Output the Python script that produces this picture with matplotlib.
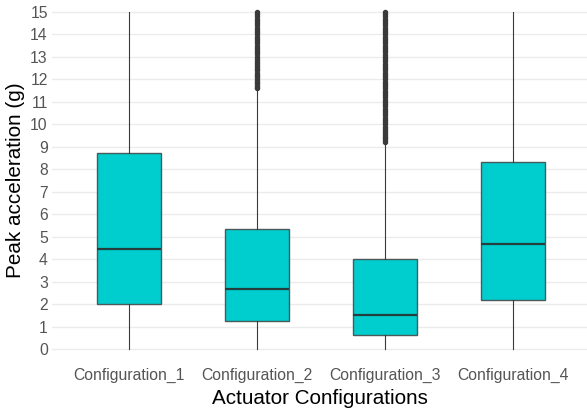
import matplotlib
matplotlib.use("Agg")
import matplotlib.pyplot as plt

plt.rcParams['font.family'] = ['Liberation Sans', 'DejaVu Sans']

# Box summary statistics per actuator configuration
categories = ["Configuration_1", "Configuration_2", "Configuration_3", "Configuration_4"]
q1 = [2.0, 1.25, 0.62, 2.2]
medians = [4.47, 2.67, 1.53, 4.67]
q3 = [8.72, 5.35, 4.03, 8.32]
whisker_low = [0.0, 0.0, 0.0, 0.0]
whisker_high = [15.0, 11.58, 9.2, 15.0]

outliers_2 = [11.62, 11.68, 11.75, 11.83, 11.9, 11.98, 12.05, 12.14, 12.22, 12.3,
              12.4, 12.48, 12.57, 12.66, 12.75, 12.84, 12.93, 13.02, 13.12, 13.2,
              13.3, 13.4, 13.5, 13.6, 13.7, 13.8, 13.9, 14.0, 14.1, 14.2,
              14.3, 14.4, 14.5, 14.6, 14.7, 14.8, 14.9, 14.98]
outliers_3 = [9.24, 9.3, 9.38, 9.46, 9.55, 9.63, 9.72, 9.8, 9.9, 10.0,
              10.1, 10.2, 10.3, 10.4, 10.5, 10.6, 10.7, 10.8, 10.9, 11.0,
              11.1, 11.2, 11.3, 11.4, 11.5, 11.6, 11.7, 11.8, 11.9, 12.0,
              12.1, 12.2, 12.3, 12.4, 12.5, 12.6, 12.7, 12.8, 12.9, 13.0,
              13.1, 13.2, 13.3, 13.4, 13.5, 13.6, 13.7, 13.8, 13.9, 14.0,
              14.1, 14.2, 14.3, 14.4, 14.5, 14.6, 14.7, 14.8, 14.9, 14.98]
outliers = [[], outliers_2, outliers_3, []]

y_ticks = list(range(0, 16))

W, H = 587, 411
fig = plt.figure(figsize=(W / 100, H / 100), dpi=100)
ax = fig.add_axes([52 / W, 1 - 355 / H, (587 - 52) / W, (355 - 8.6) / H])

stats = []
for i in range(len(categories)):
    stats.append(dict(med=medians[i], q1=q1[i], q3=q3[i],
                      whislo=whisker_low[i], whishi=whisker_high[i],
                      fliers=outliers[i], label=categories[i]))

edge = "#3A3A3A"
ax.bxp(stats, positions=range(1, 5), widths=0.5, patch_artist=True,
       showcaps=False,
       boxprops=dict(facecolor="#00CDCD", edgecolor="#4A5A5A", linewidth=1.0),
       medianprops=dict(color="#243E3E", linewidth=1.6),
       whiskerprops=dict(color=edge, linewidth=0.8),
       flierprops=dict(marker="o", markersize=2.9, markerfacecolor=edge,
                       markeredgecolor=edge, linestyle="none"))

ax.set_xlim(0.398, 4.578)
ax.set_ylim(-0.25, 15.15)
ax.set_yticks(y_ticks)
ax.set_yticklabels([str(v) for v in y_ticks])
ax.grid(axis="y", color="#EBEBEB", linewidth=1.0)
ax.set_axisbelow(True)
for s in ax.spines.values():
    s.set_visible(False)
ax.tick_params(axis="both", length=0, labelsize=11.3, labelcolor="#555555")
ax.tick_params(axis="x", pad=9.5)
ax.tick_params(axis="y", pad=3)

ax.set_xlabel("Actuator Configurations", fontsize=14.9, color="black", labelpad=0)
ax.xaxis.set_label_coords((320 - 52) / (587 - 52), -(398 - 355) / (355 - 8.6))
ax.set_ylabel("Peak acceleration (g)", fontsize=14.9, color="black")
ax.yaxis.set_label_coords(-(52 - 16) / (587 - 52), (355 - 180) / (355 - 8.6))
ax.xaxis.label.set_va("center")
ax.yaxis.label.set_va("center")

fig.savefig("out.png", dpi=100)
